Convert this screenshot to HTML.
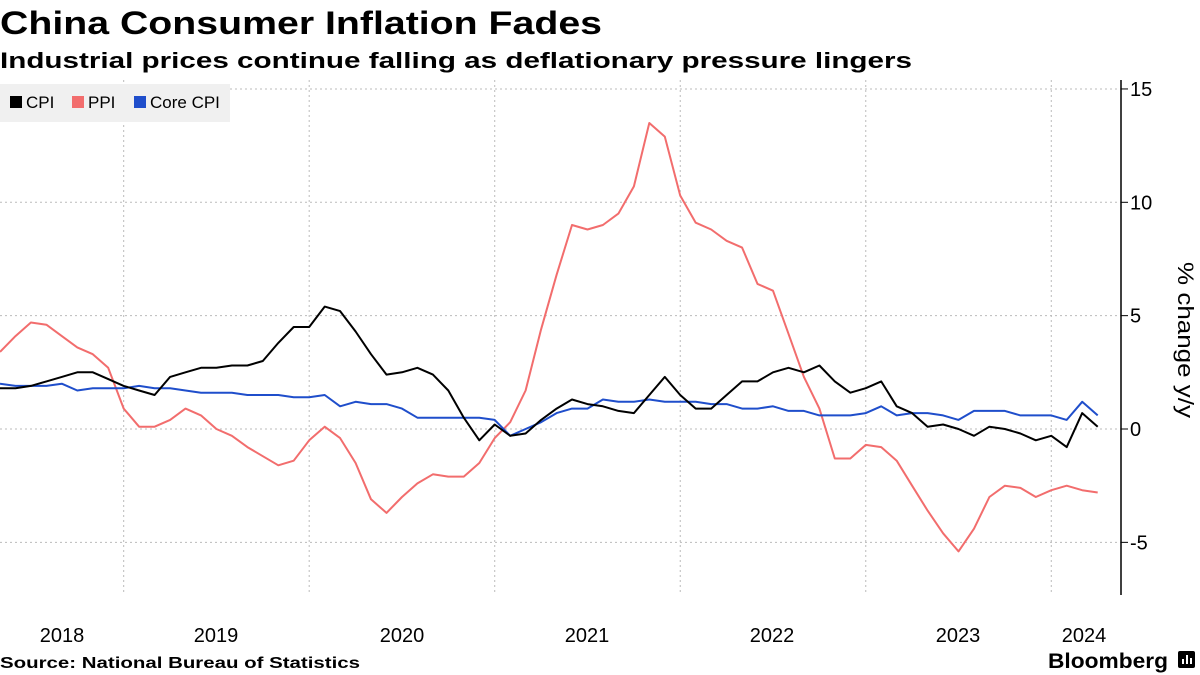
<!DOCTYPE html>
<html><head><meta charset="utf-8"><style>
body{margin:0;background:#fff;}
svg{display:block;font-family:"Liberation Sans",sans-serif;}
</style></head><body>
<svg id="c" width="1200" height="675" viewBox="0 0 1200 675">
<text x="0" y="34" font-size="32" font-weight="bold" textLength="602" lengthAdjust="spacingAndGlyphs">China Consumer Inflation Fades</text>
<text x="0" y="68" font-size="22" font-weight="bold" textLength="912" lengthAdjust="spacingAndGlyphs">Industrial prices continue falling as deflationary pressure lingers</text>
<g id="grid" stroke="#bbb" stroke-width="1" stroke-dasharray="2,3"></g>
<rect x="0" y="84" width="230" height="38" fill="#f0f0f0"/>
<rect x="10" y="96" width="12" height="12" fill="#000"/><text x="26" y="108" font-size="17">CPI</text>
<rect x="72" y="96" width="12" height="12" fill="#f26d6d"/><text x="88" y="108" font-size="17">PPI</text>
<rect x="134" y="96" width="12" height="12" fill="#1f4ecb"/><text x="150" y="108" font-size="17">Core CPI</text>
<g id="lines" fill="none" stroke-width="2" stroke-linejoin="round"></g>
<line x1="1121" y1="80" x2="1121" y2="595" stroke="#000" stroke-width="1.5"/>
<g id="ticks" font-size="20"></g>
<text transform="translate(1178,340) rotate(90)" font-size="22" text-anchor="middle" textLength="156" lengthAdjust="spacingAndGlyphs">% change y/y</text>
<g font-size="20" text-anchor="middle">
<text x="62" y="642">2018</text><text x="216" y="642">2019</text><text x="402" y="642">2020</text>
<text x="587" y="642">2021</text><text x="772" y="642">2022</text><text x="958" y="642">2023</text><text x="1084" y="642">2024</text>
</g>
<text x="0" y="668" font-size="16" font-weight="bold" textLength="360" lengthAdjust="spacingAndGlyphs">Source: National Bureau of Statistics</text>
<text x="1048" y="668" font-size="21" font-weight="bold" textLength="120" lengthAdjust="spacingAndGlyphs">Bloomberg</text>
<rect x="1178" y="651" width="17" height="17" rx="2" fill="#000"/>
<g stroke="#fff" stroke-width="2"><line x1="1183" y1="664" x2="1183" y2="659"/><line x1="1187" y1="664" x2="1187" y2="655"/><line x1="1191" y1="664" x2="1191" y2="658"/></g>
</svg>
<script>
var ns="http://www.w3.org/2000/svg";
function Y(v){return 429-v*22.67;}
var dx=15.46;
var cpi=[1.8,1.8,1.9,2.1,2.3,2.5,2.5,2.2,1.9,1.7,1.5,2.3,2.5,2.7,2.7,2.8,2.8,3.0,3.8,4.5,4.5,5.4,5.2,4.3,3.3,2.4,2.5,2.7,2.4,1.7,0.5,-0.5,0.2,-0.3,-0.2,0.4,0.9,1.3,1.1,1.0,0.8,0.7,1.5,2.3,1.5,0.9,0.9,1.5,2.1,2.1,2.5,2.7,2.5,2.8,2.1,1.6,1.8,2.1,1.0,0.7,0.1,0.2,0.0,-0.3,0.1,0.0,-0.2,-0.5,-0.3,-0.8,0.7,0.1];
var ppi=[3.4,4.1,4.7,4.6,4.1,3.6,3.3,2.7,0.9,0.1,0.1,0.4,0.9,0.6,0.0,-0.3,-0.8,-1.2,-1.6,-1.4,-0.5,0.1,-0.4,-1.5,-3.1,-3.7,-3.0,-2.4,-2.0,-2.1,-2.1,-1.5,-0.4,0.3,1.7,4.4,6.8,9.0,8.8,9.0,9.5,10.7,13.5,12.9,10.3,9.1,8.8,8.3,8.0,6.4,6.1,4.2,2.3,0.9,-1.3,-1.3,-0.7,-0.8,-1.4,-2.5,-3.6,-4.6,-5.4,-4.4,-3.0,-2.5,-2.6,-3.0,-2.7,-2.5,-2.7,-2.8];
var core=[2.0,1.9,1.9,1.9,2.0,1.7,1.8,1.8,1.8,1.9,1.8,1.8,1.7,1.6,1.6,1.6,1.5,1.5,1.5,1.4,1.4,1.5,1.0,1.2,1.1,1.1,0.9,0.5,0.5,0.5,0.5,0.5,0.4,-0.3,0.0,0.3,0.7,0.9,0.9,1.3,1.2,1.2,1.3,1.2,1.2,1.2,1.1,1.1,0.9,0.9,1.0,0.8,0.8,0.6,0.6,0.6,0.7,1.0,0.6,0.7,0.7,0.6,0.4,0.8,0.8,0.8,0.6,0.6,0.6,0.4,1.2,0.6];
var g=document.getElementById('grid');
[15,10,5,0,-5].forEach(function(v){var l=document.createElementNS(ns,'line');l.setAttribute('x1',0);l.setAttribute('x2',1121);l.setAttribute('y1',Y(v));l.setAttribute('y2',Y(v));g.appendChild(l);});
[8,20,32,44,56,68].forEach(function(i){var x=i*dx;var l=document.createElementNS(ns,'line');l.setAttribute('x1',x);l.setAttribute('x2',x);l.setAttribute('y1',80);l.setAttribute('y2',595);g.appendChild(l);});
var t=document.getElementById('ticks');
[15,10,5,0,-5].forEach(function(v){var l=document.createElementNS(ns,'line');l.setAttribute('x1',1121);l.setAttribute('x2',1128);l.setAttribute('y1',Y(v));l.setAttribute('y2',Y(v));l.setAttribute('stroke','#000');t.appendChild(l);
var tx=document.createElementNS(ns,'text');tx.setAttribute('x',1130);tx.setAttribute('y',Y(v)+7);tx.textContent=(v<0?'-'+(-v):v);t.appendChild(tx);});
var L=document.getElementById('lines');
[[ppi,'#f26d6d'],[core,'#1f4ecb'],[cpi,'#000']].forEach(function(s){var p=document.createElementNS(ns,'polyline');p.setAttribute('points',s[0].map(function(v,i){return (i*dx).toFixed(1)+','+Y(v).toFixed(1);}).join(' '));p.setAttribute('stroke',s[1]);L.appendChild(p);});
</script>
</body></html>
